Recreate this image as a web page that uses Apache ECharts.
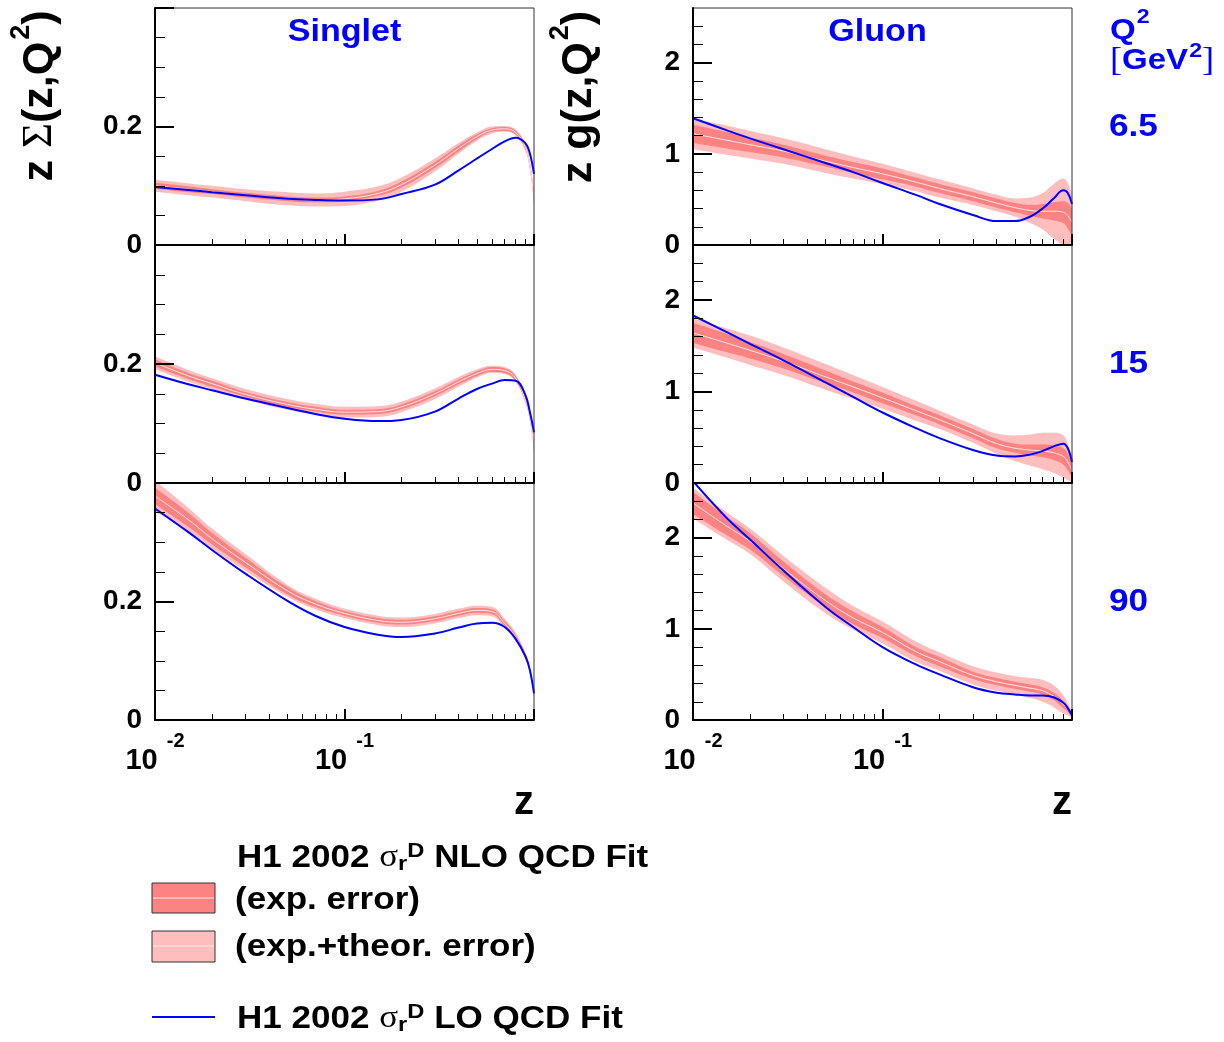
<!DOCTYPE html>
<html><head><meta charset="utf-8">
<script src="https://cdn.jsdelivr.net/npm/echarts@6/dist/echarts.min.js"></script>
<style>html,body{margin:0;padding:0;background:#fff}#c{width:1224px;height:1042px}</style>
</head><body><div id="c"></div>
<script>
// ---------------- data ----------------
const Z = [0.01,0.015,0.02,0.03,0.05,0.07,0.1,0.15,0.2,0.3,0.4,0.5,0.6,0.7,0.8,0.9,0.95,1.0];

const SING65_NLO = [0.100,0.094,0.090,0.084,0.078,0.076,0.078,0.087,0.102,0.135,0.163,0.183,0.194,0.196,0.190,0.165,0.135,0.080];
const SING65_EXP = [0.005,0.005,0.004,0.004,0.004,0.004,0.004,0.004,0.005,0.005,0.005,0.004,0.003,0.003,0.003,0.004,0.005,0.006];
const SING65_TOT = [0.010,0.010,0.010,0.010,0.011,0.011,0.012,0.012,0.012,0.011,0.009,0.007,0.006,0.005,0.005,0.006,0.008,0.010];
const SING65_LO  = [0.098,0.093,0.089,0.084,0.078,0.076,0.075,0.077,0.086,0.102,0.126,0.146,0.162,0.175,0.181,0.172,0.155,0.120];

const SING15_NLO = [0.202,0.180,0.167,0.149,0.132,0.124,0.119,0.120,0.128,0.150,0.170,0.184,0.191,0.189,0.176,0.140,0.110,0.060];
const SING15_EXP = [0.006,0.005,0.005,0.004,0.004,0.004,0.004,0.004,0.004,0.004,0.004,0.004,0.004,0.004,0.004,0.004,0.004,0.004];
const SING15_TOT = [0.011,0.010,0.009,0.009,0.009,0.009,0.009,0.009,0.009,0.009,0.008,0.007,0.006,0.006,0.006,0.006,0.006,0.006];
const SING15_LO  = [0.182,0.166,0.156,0.142,0.126,0.116,0.108,0.104,0.106,0.120,0.142,0.158,0.167,0.173,0.172,0.148,0.120,0.085];

const SING90_NLO = [0.378,0.338,0.306,0.266,0.218,0.196,0.180,0.168,0.165,0.171,0.180,0.185,0.183,0.163,0.140,0.108,0.083,0.045];
const SING90_EXP = [0.014,0.012,0.010,0.008,0.006,0.005,0.004,0.004,0.004,0.004,0.004,0.004,0.004,0.004,0.004,0.004,0.003,0.003];
const SING90_TOT = [0.026,0.020,0.017,0.014,0.010,0.009,0.008,0.008,0.008,0.008,0.008,0.008,0.008,0.008,0.007,0.006,0.005,0.004];
const SING90_LO  = [0.357,0.317,0.287,0.247,0.201,0.176,0.157,0.144,0.140,0.146,0.156,0.163,0.164,0.157,0.137,0.108,0.085,0.045];

const GLU65_NLO = [1.22,1.15,1.10,1.03,0.92,0.85,0.78,0.69,0.62,0.53,0.46,0.41,0.38,0.37,0.37,0.36,0.32,0.25];
const GLU65_EXP = [0.10,0.09,0.08,0.07,0.06,0.06,0.06,0.05,0.05,0.05,0.05,0.05,0.06,0.08,0.10,0.12,0.14,0.15];
const GLU65_TOT = [0.17,0.16,0.15,0.14,0.13,0.12,0.11,0.10,0.10,0.09,0.09,0.10,0.14,0.20,0.30,0.37,0.36,0.30];
const GLU65_LO  = [1.39,1.26,1.17,1.05,0.90,0.80,0.68,0.55,0.45,0.33,0.262,0.262,0.31,0.40,0.51,0.60,0.57,0.45];

const GLU15_NLO = [1.64,1.53,1.45,1.33,1.16,1.05,0.93,0.79,0.69,0.54,0.43,0.38,0.36,0.35,0.33,0.29,0.23,0.14];
const GLU15_EXP = [0.11,0.10,0.09,0.08,0.07,0.06,0.06,0.05,0.05,0.05,0.05,0.05,0.06,0.07,0.08,0.09,0.09,0.08];
const GLU15_TOT = [0.16,0.16,0.16,0.15,0.14,0.13,0.12,0.11,0.10,0.10,0.11,0.14,0.17,0.20,0.22,0.23,0.20,0.12];
const GLU15_LO  = [1.83,1.65,1.52,1.34,1.10,0.94,0.77,0.60,0.49,0.36,0.30,0.29,0.31,0.35,0.40,0.43,0.38,0.23];

const GLU90_NLO = [2.38,2.13,1.96,1.66,1.31,1.12,0.96,0.75,0.64,0.49,0.42,0.38,0.35,0.32,0.26,0.17,0.12,0.05];
const GLU90_EXP = [0.12,0.10,0.09,0.08,0.07,0.07,0.06,0.05,0.05,0.04,0.04,0.04,0.04,0.04,0.04,0.04,0.03,0.02];
const GLU90_TOT = [0.17,0.15,0.14,0.14,0.14,0.13,0.12,0.11,0.10,0.10,0.10,0.10,0.11,0.12,0.12,0.10,0.07,0.03];
const GLU90_LO  = [2.62,2.22,1.98,1.64,1.24,1.02,0.80,0.61,0.50,0.36,0.30,0.28,0.27,0.27,0.25,0.19,0.13,0.05];

const X_MAJOR = [0.01, 0.1, 1];
const X_MINOR = [0.02,0.03,0.04,0.05,0.06,0.07,0.08,0.09,0.2,0.3,0.4,0.5,0.6,0.7,0.8,0.9];
const X_LABELS = [0.01, 0.1];
const SING_MAJOR = [0, 0.2, 0.4];
const SING_MINOR = [0.05,0.1,0.15,0.25,0.3,0.35];
const SING_LABELS = [0, 0.2];
const GLU_MAJOR = [0, 1, 2];
const GLU_MINOR = [0.2,0.4,0.6,0.8,1.2,1.4,1.6,1.8,2.2,2.4];
const GLU_LABELS = [0, 1, 2];
const Q2_LABELS = ['6.5', '15', '90'];
const COLUMN_TITLES = ['Singlet', 'Gluon'];

// ---------------- layout / style ----------------
const F = "'Liberation Sans', Arial, Helvetica, sans-serif";
const SERIF = "'Liberation Serif', 'DejaVu Serif', serif";
const BLUE = '#0000ff';
const C_TOT = '#ffbdbd';
const C_EXP = '#fd8383';
const C_MID = '#ffe6e6';
const COL_LEFT = [155, 693];
const PW = 379;
const ROW_TOP = [8, 245, 483];
const ROW_H = [237, 238, 237];

const PANELS = [
  {col:0,row:0,nlo:SING65_NLO,exp:SING65_EXP,tot:SING65_TOT,lo:SING65_LO,max:0.4,maj:SING_MAJOR,min:SING_MINOR,lab:SING_LABELS},
  {col:0,row:1,nlo:SING15_NLO,exp:SING15_EXP,tot:SING15_TOT,lo:SING15_LO,max:0.4,maj:SING_MAJOR,min:SING_MINOR,lab:SING_LABELS},
  {col:0,row:2,nlo:SING90_NLO,exp:SING90_EXP,tot:SING90_TOT,lo:SING90_LO,max:0.4,maj:SING_MAJOR,min:SING_MINOR,lab:SING_LABELS},
  {col:1,row:0,nlo:GLU65_NLO,exp:GLU65_EXP,tot:GLU65_TOT,lo:GLU65_LO,max:2.6,maj:GLU_MAJOR,min:GLU_MINOR,lab:GLU_LABELS},
  {col:1,row:1,nlo:GLU15_NLO,exp:GLU15_EXP,tot:GLU15_TOT,lo:GLU15_LO,max:2.6,maj:GLU_MAJOR,min:GLU_MINOR,lab:GLU_LABELS},
  {col:1,row:2,nlo:GLU90_NLO,exp:GLU90_EXP,tot:GLU90_TOT,lo:GLU90_LO,max:2.6,maj:GLU_MAJOR,min:GLU_MINOR,lab:GLU_LABELS}
];

const grid = [], xAxis = [], yAxis = [], series = [];
PANELS.forEach((p, g) => {
  grid.push({left: COL_LEFT[p.col], top: ROW_TOP[p.row], width: PW, height: ROW_H[p.row],
    show: true, borderColor: '#333', borderWidth: 1, backgroundColor:'transparent', z: 4});
  const bottom = p.row === 2;
  xAxis.push({type:'log', logBase:10, gridIndex:g, position:'bottom', min:0.01, max:1, z:5,
    axisLine:{show:true, onZero:false, lineStyle:{color:'#000', width:2}},
    axisTick:{show:true, inside:true, length:11, customValues:X_MAJOR, lineStyle:{color:'#000', width:2}},
    splitLine:{show:false}, minorTick:{show:false}, minorSplitLine:{show:false},
    axisLabel: bottom ? {show:true, customValues:X_LABELS, margin:26,
      formatter: v => '{b|10}{s|' + Math.round(Math.log10(v)) + '}',
      rich:{
        b:{fontFamily:F, fontWeight:'bold', fontSize:29, color:'#000', lineHeight:30, verticalAlign:'middle'},
        s:{fontFamily:F, fontWeight:'bold', fontSize:20, color:'#000', lineHeight:20, verticalAlign:'middle', padding:[0,0,40,9]}
      }} : {show:false}
  });
  xAxis.push({type:'log', logBase:10, gridIndex:g, position:'bottom', offset:0, min:0.01, max:1, z:5,
    axisLine:{show:false, onZero:false},
    axisTick:{show:true, inside:true, length:6, customValues:X_MINOR, lineStyle:{color:'#000', width:1}},
    splitLine:{show:false}, axisLabel:{show:false}});
  yAxis.push({type:'value', gridIndex:g, position:'left', min:0, max:p.max, z:5,
    axisLine:{show:true, onZero:false, lineStyle:{color:'#000', width:2}},
    axisTick:{show:true, inside:true, length:19, customValues:p.maj, lineStyle:{color:'#000', width:2}},
    axisLabel:{show:true, customValues:p.lab, margin:13, fontFamily:F, fontWeight:'bold', fontSize:28, color:'#000',
      formatter: v => String(v)},
    splitLine:{show:false}});
  yAxis.push({type:'value', gridIndex:g, position:'left', offset:0, min:0, max:p.max, z:5,
    axisLine:{show:false, onZero:false},
    axisTick:{show:true, inside:true, length:10, customValues:p.min, lineStyle:{color:'#000', width:1}},
    axisLabel:{show:false}, splitLine:{show:false}});

  const base = {type:'line', xAxisIndex:2*g, yAxisIndex:2*g, showSymbol:false, symbol:'none', smooth:0.4,
    silent:true, animation:false, z:2};
  const pts = f => Z.map((z,i) => [z, f(i)]);
  const area = (name, f, color) => Object.assign({}, base, {name, data: pts(f),
    lineStyle:{width:0, opacity:0}, areaStyle:{color, opacity:1, origin:'start'}});
  // layered fills: upper total edge, upper exp edge, lower exp edge, lower total edge (white)
  series.push(area('(exp.+theor. error)', i => p.nlo[i] + p.tot[i], C_TOT));
  series.push(area('(exp. error)', i => p.nlo[i] + p.exp[i], C_EXP));
  series.push(area('exp. error lower edge', i => p.nlo[i] - p.exp[i], C_TOT));
  series.push(area('exp.+theor. error lower edge', i => p.nlo[i] - p.tot[i], '#ffffff'));
  series.push(Object.assign({}, base, {name:'H1 2002 NLO QCD Fit', data: pts(i => p.nlo[i]), lineStyle:{color:C_MID, width:1}}));
  series.push(Object.assign({}, base, {name:'H1 2002 LO QCD Fit', data: pts(i => p.lo[i]), lineStyle:{color:BLUE, width:2}}));
});

// ---------------- texts ----------------
function rt(fs, o) { return Object.assign({fontFamily:F, fontWeight:'bold', fontSize:fs, lineHeight:fs+2, verticalAlign:'middle'}, o||{}); }
function T(x, y, text, o) {
  o = o || {};
  const st = {text, fill:o.color||'#000', fontFamily:F, fontWeight:'bold', fontSize:o.fs||31,
    align:o.align||'left', textAlign:o.align||'left', verticalAlign:'middle', textVerticalAlign:'middle'};
  if (o.rich) {
    const r = {};
    for (const k in o.rich) r[k] = Object.assign({fill:o.color||'#000', color:o.color||'#000'}, o.rich[k]);
    st.rich = r;
  }
  return {type:'text', x, y, scaleX:o.sx||1, rotation:o.rot||0, style:st, silent:true, z:10};
}
const SX = 1.1;
const graphic = [];
graphic.push(T(COL_LEFT[0]+PW/2, 32, COLUMN_TITLES[0], {color:BLUE, fs:31, align:'center', sx:SX}));
graphic.push(T(COL_LEFT[1]+PW/2 - 5, 32, COLUMN_TITLES[1], {color:BLUE, fs:31, align:'center', sx:SX}));
graphic.push(T(1110, 31, '{a|Q}{s|2}', {color:BLUE, sx:SX, rich:{a:rt(30), s:rt(21,{lineHeight:21, padding:[0,0,28,1]})}}));
graphic.push(T(1110, 61, '{br|[}{a|GeV}{s|2}{br|]}', {color:BLUE, sx:SX,
  rich:{br:rt(33,{fontFamily:SERIF, fontWeight:'normal'}), a:rt(30), s:rt(21,{lineHeight:21, padding:[0,0,20,1]})}}));
Q2_LABELS.forEach((t, r) => {
  graphic.push(T(1109, ROW_TOP[r] + 119, t, {color:BLUE, fs:32, sx:SX}));
});
const ytRich = {a:rt(43,{lineHeight:45}), g:rt(43,{fontFamily:SERIF, fontWeight:'normal', lineHeight:45}),
  s:rt(27,{lineHeight:27, padding:[0,0,36,2]})};
graphic.push(T(40, 96, '{a|z }{g|Σ}{a|(z,Q}{s|2}{a|)}', {rot:Math.PI/2, align:'center', rich:ytRich}));
graphic.push(T(579, 97, '{a|z g(z,Q}{s|2}{a|)}', {rot:Math.PI/2, align:'center', rich:ytRich}));
graphic.push(T(COL_LEFT[0]+PW, 803, 'z', {fs:40, align:'right'}));
graphic.push(T(COL_LEFT[1]+PW, 803, 'z', {fs:40, align:'right'}));
const lgRich = {a:rt(31), g:rt(31,{fontFamily:SERIF, fontWeight:'normal'}),
  sub:rt(21,{lineHeight:21, padding:[12,0,0,0]}), sup:rt(21,{lineHeight:21, padding:[0,0,14,0]})};
const LSX = 1.13;
graphic.push(T(237, 858, '{a|H1 2002 }{g|σ}{sub|r}{sup|D}{a| NLO QCD Fit}', {sx:LSX, rich:lgRich}));
graphic.push({type:'rect', shape:{x:152, y:883, width:63, height:30}, style:{fill:C_EXP, stroke:'#333', lineWidth:1}, silent:true});
graphic.push({type:'line', shape:{x1:153, y1:898, x2:214, y2:898}, style:{stroke:C_MID, lineWidth:1}, silent:true});
graphic.push(T(235, 900, '(exp. error)', {sx:LSX}));
graphic.push({type:'rect', shape:{x:152, y:931, width:63, height:31}, style:{fill:C_TOT, stroke:'#333', lineWidth:1}, silent:true});
graphic.push({type:'line', shape:{x1:153, y1:946, x2:214, y2:946}, style:{stroke:C_MID, lineWidth:1}, silent:true});
graphic.push(T(235, 947, '(exp.+theor. error)', {sx:LSX}));
graphic.push({type:'line', shape:{x1:152, y1:1017, x2:215, y2:1017}, style:{stroke:BLUE, lineWidth:2}, silent:true});
graphic.push(T(237, 1019, '{a|H1 2002 }{g|σ}{sub|r}{sup|D}{a| LO QCD Fit}', {sx:LSX, rich:lgRich}));

const chart = echarts.init(document.getElementById('c'), null, {renderer:'canvas'});
chart.setOption({
  animation:false,
  backgroundColor:'#fff',
  grid, xAxis, yAxis, series, graphic
});
</script>
</body></html>
